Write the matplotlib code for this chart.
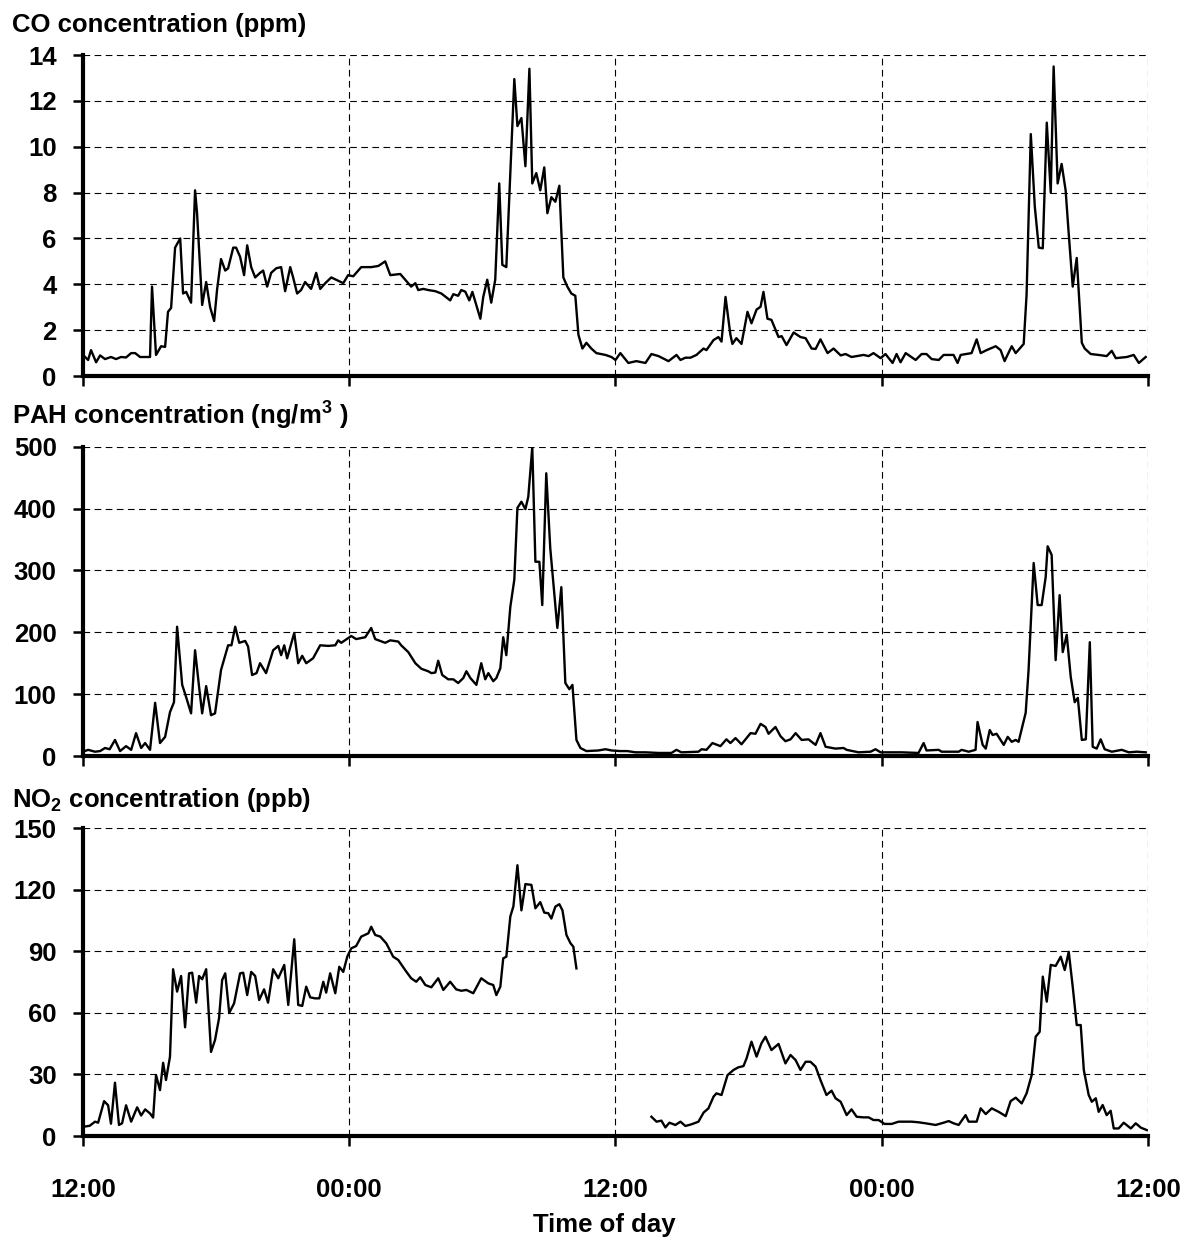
import numpy as np
import matplotlib
matplotlib.use('Agg')
import matplotlib.pyplot as plt

plt.rcParams['font.family'] = 'Liberation Sans'
plt.rcParams['font.weight'] = 'bold'
plt.rcParams['mathtext.fontset'] = 'custom'
plt.rcParams['mathtext.rm'] = 'Liberation Sans:bold'
plt.rcParams['mathtext.default'] = 'rm'

# hours after 12:00 on day 1, concentration
co_data = [(0.0, 0.92), (0.23, 0.7), (0.36, 1.13), (0.59, 0.6), (0.77, 0.9), (0.99, 0.74), (1.26, 0.83),
           (1.49, 0.74), (1.71, 0.83), (1.94, 0.81), (2.17, 1.0), (2.35, 1.0), (2.57, 0.83), (3.02, 0.83),
           (3.11, 3.9), (3.29, 0.92), (3.52, 1.3), (3.70, 1.27), (3.83, 2.8), (3.97, 2.97), (4.15, 5.6),
           (4.38, 6.0), (4.51, 3.6), (4.65, 3.67), (4.87, 3.2), (5.05, 8.1), (5.14, 7.1), (5.37, 3.1),
           (5.55, 4.1), (5.73, 3.0), (5.91, 2.4), (6.04, 3.75), (6.22, 5.1), (6.41, 4.6), (6.54, 4.7),
           (6.77, 5.6), (6.90, 5.6), (7.08, 5.2), (7.26, 4.4), (7.40, 5.7), (7.58, 4.75), (7.76, 4.3),
           (7.98, 4.5), (8.12, 4.6), (8.30, 3.9), (8.48, 4.5), (8.71, 4.7), (8.93, 4.75), (9.11, 3.7),
           (9.34, 4.75), (9.47, 4.3), (9.65, 3.6), (9.83, 3.75), (10.01, 4.1), (10.28, 3.8), (10.51, 4.5),
           (10.69, 3.8), (10.92, 4.05), (11.19, 4.3), (11.41, 4.2), (11.73, 4.05), (11.95, 4.4), (12.18, 4.35),
           (12.54, 4.75), (12.99, 4.75), (13.31, 4.8), (13.62, 5.0), (13.85, 4.4), (14.30, 4.45), (14.79, 3.9),
           (14.98, 4.05), (15.11, 3.75), (15.34, 3.8), (15.56, 3.75), (15.88, 3.7), (16.15, 3.6), (16.55, 3.3),
           (16.69, 3.57), (16.91, 3.5), (17.05, 3.75), (17.23, 3.68), (17.41, 3.3), (17.55, 3.67), (17.91, 2.5),
           (18.04, 3.45), (18.22, 4.2), (18.40, 3.2), (18.58, 4.2), (18.76, 8.4), (18.90, 4.85), (19.08, 4.75),
           (19.44, 12.95), (19.58, 10.9), (19.76, 11.25), (19.94, 9.15), (20.12, 13.4), (20.25, 8.4),
           (20.43, 8.85), (20.61, 8.1), (20.79, 9.1), (20.93, 7.1), (21.11, 7.8), (21.29, 7.6), (21.47, 8.3),
           (21.65, 4.3), (21.83, 3.9), (22.01, 3.6), (22.19, 3.5), (22.33, 1.8), (22.51, 1.2), (22.69, 1.45),
           (22.91, 1.2), (23.14, 1.0), (23.55, 0.92), (23.82, 0.83), (24.00, 0.7), (24.22, 1.0), (24.58, 0.57),
           (24.94, 0.65), (25.35, 0.57), (25.62, 0.96), (25.94, 0.87), (26.39, 0.65), (26.75, 0.92),
           (26.93, 0.7), (27.15, 0.8), (27.38, 0.8), (27.65, 0.92), (27.97, 1.2), (28.10, 1.13), (28.42, 1.57),
           (28.64, 1.7), (28.78, 1.5), (28.96, 3.45), (29.18, 1.8), (29.27, 1.4), (29.45, 1.65), (29.68, 1.4),
           (29.95, 2.8), (30.13, 2.3), (30.36, 2.9), (30.54, 3.02), (30.67, 3.67), (30.85, 2.5), (31.03, 2.45),
           (31.35, 1.7), (31.49, 1.74), (31.71, 1.35), (32.03, 1.9), (32.34, 1.7), (32.57, 1.65), (32.84, 1.2),
           (33.02, 1.18), (33.24, 1.6), (33.56, 1.0), (33.83, 1.2), (34.15, 0.9), (34.37, 0.96), (34.64, 0.83),
           (35.18, 0.92), (35.41, 0.87), (35.63, 1.0), (35.95, 0.78), (36.17, 0.96), (36.49, 0.57),
           (36.67, 0.96), (36.85, 0.6), (37.08, 1.0), (37.53, 0.7), (37.80, 0.96), (38.02, 0.96), (38.25, 0.74),
           (38.57, 0.7), (38.79, 0.92), (39.24, 0.92), (39.42, 0.57), (39.56, 0.92), (40.05, 1.0), (40.28, 1.6),
           (40.46, 1.0), (40.73, 1.13), (41.14, 1.3), (41.36, 1.13), (41.54, 0.65), (41.63, 0.84), (41.86, 1.3),
           (42.04, 1.0), (42.40, 1.4), (42.53, 3.55), (42.72, 10.55), (42.90, 7.4), (43.08, 5.6), (43.26, 5.57),
           (43.44, 11.05), (43.62, 8.0), (43.75, 13.5), (43.93, 8.4), (44.11, 9.25), (44.29, 8.1), (44.43, 6.2),
           (44.61, 3.9), (44.79, 5.15), (45.02, 1.45), (45.15, 1.2), (45.42, 0.96), (45.78, 0.92), (46.14, 0.87),
           (46.37, 1.1), (46.55, 0.78), (47.05, 0.83), (47.36, 0.92), (47.59, 0.57), (47.90, 0.83)]

pah_data = [(0.0, 7), (0.23, 10), (0.54, 7), (0.77, 8), (0.99, 13), (1.20, 11), (1.44, 26), (1.67, 8),
            (1.94, 16), (2.17, 10), (2.39, 37), (2.62, 13), (2.80, 21), (3.02, 10), (3.25, 86), (3.47, 21),
            (3.70, 31), (3.92, 71), (4.10, 87), (4.24, 209), (4.47, 115), (4.65, 95), (4.87, 69), (5.05, 171),
            (5.23, 112), (5.37, 69), (5.55, 113), (5.77, 66), (5.95, 69), (6.22, 139), (6.54, 179), (6.69, 179),
            (6.86, 209), (7.04, 183), (7.31, 186), (7.44, 177), (7.62, 131), (7.82, 134), (7.98, 150),
            (8.25, 134), (8.57, 171), (8.80, 178), (8.93, 163), (9.07, 179), (9.20, 158), (9.52, 199),
            (9.70, 150), (9.88, 162), (10.06, 150), (10.37, 158), (10.69, 179), (11.05, 178), (11.37, 179),
            (11.50, 187), (11.64, 183), (12.09, 194), (12.31, 189), (12.72, 192), (12.99, 207), (13.17, 189),
            (13.62, 183), (13.85, 187), (14.21, 185), (14.34, 179), (14.66, 168), (14.98, 150), (15.25, 141),
            (15.56, 137), (15.70, 134), (15.88, 135), (16.01, 154), (16.19, 131), (16.46, 124), (16.69, 124),
            (16.91, 118), (17.14, 126), (17.28, 137), (17.46, 126), (17.73, 115), (17.95, 150), (18.13, 124),
            (18.27, 134), (18.49, 121), (18.63, 126), (18.81, 142), (18.94, 192), (19.08, 163), (19.26, 241),
            (19.44, 285), (19.58, 401), (19.76, 411), (19.94, 399), (20.07, 419), (20.25, 499), (20.39, 314),
            (20.57, 314), (20.70, 244), (20.88, 457), (21.06, 336), (21.24, 263), (21.38, 207), (21.56, 273),
            (21.74, 118), (21.92, 108), (22.06, 115), (22.24, 26), (22.42, 13), (22.69, 8), (23.23, 9),
            (23.55, 11), (23.82, 9), (24.22, 8), (24.54, 8), (24.90, 6), (25.35, 6), (25.94, 5), (26.52, 5),
            (26.75, 10), (26.97, 6), (27.74, 7), (27.88, 11), (28.10, 10), (28.37, 21), (28.73, 16), (29.00, 27),
            (29.18, 21), (29.41, 29), (29.68, 19), (30.09, 37), (30.31, 36), (30.54, 52), (30.76, 47),
            (30.90, 36), (31.21, 47), (31.44, 32), (31.66, 24), (31.89, 27), (32.12, 37), (32.39, 26),
            (32.70, 27), (33.02, 18), (33.24, 37), (33.47, 15), (33.92, 12), (34.28, 13), (34.42, 10),
            (34.96, 6), (35.50, 7), (35.72, 11), (35.95, 6), (36.90, 6), (37.66, 5), (37.89, 21), (38.02, 9),
            (38.57, 10), (38.70, 7), (39.47, 7), (39.60, 10), (39.92, 7), (40.23, 10), (40.32, 55), (40.55, 18),
            (40.69, 12), (40.87, 42), (41.00, 34), (41.18, 36), (41.50, 18), (41.68, 31), (41.86, 23),
            (42.04, 26), (42.17, 23), (42.49, 70), (42.62, 139), (42.85, 312), (43.03, 244), (43.21, 244),
            (43.39, 289), (43.48, 339), (43.66, 325), (43.84, 155), (44.02, 260), (44.16, 168), (44.34, 196),
            (44.52, 128), (44.70, 87), (44.84, 94), (45.02, 26), (45.20, 27), (45.38, 184), (45.51, 15),
            (45.69, 12), (45.87, 27), (46.05, 11), (46.37, 7), (46.82, 10), (47.14, 6), (47.50, 7), (47.90, 6)]

# NO2 has a gap in the record around midday of day 2
no2_part1 = [(0.0, 4.5), (0.30, 5), (0.54, 7), (0.68, 6.5), (0.95, 17), (1.13, 15), (1.26, 6), (1.44, 26),
             (1.62, 5.4), (1.76, 6.2), (1.94, 15), (2.17, 7), (2.44, 14), (2.62, 10), (2.80, 13), (3.02, 11),
             (3.16, 9), (3.29, 29.7), (3.47, 22.4), (3.61, 35.7), (3.74, 27.3), (3.92, 38.7), (4.06, 81.3),
             (4.24, 70.4), (4.42, 78), (4.60, 53), (4.78, 79.3), (4.92, 79.6), (5.10, 65), (5.23, 78),
             (5.37, 76.4), (5.55, 81.3), (5.77, 41), (5.95, 46.8), (6.13, 57.4), (6.27, 76), (6.41, 79.3),
             (6.59, 60), (6.81, 64.7), (7.08, 79.3), (7.22, 79.6), (7.40, 68.7), (7.58, 80), (7.76, 78),
             (7.94, 66.3), (8.16, 71.5), (8.34, 65), (8.57, 81.3), (8.80, 76.9), (9.07, 83.4), (9.25, 63.9),
             (9.52, 95.9), (9.70, 63.9), (9.88, 63.4), (10.06, 72.8), (10.24, 67.6), (10.46, 67.1),
             (10.65, 67.1), (10.83, 75.2), (10.96, 69.9), (11.14, 79.3), (11.37, 69.6), (11.55, 82.5),
             (11.73, 80), (11.91, 87.4), (12.09, 91.5), (12.31, 92.6), (12.54, 97.2), (12.86, 98.8), (12.99, 102),
             (13.17, 98), (13.40, 97.2), (13.67, 93.9), (13.98, 87.4), (14.21, 85.8), (14.52, 80.9), (14.79, 76.9),
             (15.02, 75.2), (15.20, 77.4), (15.43, 73.6), (15.70, 72.5), (16.01, 76.9), (16.24, 71.2),
             (16.55, 75.2), (16.82, 71.5), (17.05, 70.8), (17.28, 71.2), (17.59, 69.6), (17.95, 76.9),
             (18.27, 74.4), (18.49, 73.6), (18.63, 68.7), (18.81, 72.8), (18.94, 86.6), (19.08, 87.4),
             (19.26, 107), (19.40, 112), (19.58, 132), (19.76, 110), (19.94, 122.8), (20.21, 122.4), (20.39, 111),
             (20.61, 114), (20.79, 108.9), (20.97, 108.6), (21.11, 106), (21.29, 111.8), (21.47, 113),
             (21.61, 110), (21.79, 98), (21.97, 94), (22.10, 92.3), (22.24, 81.7)]

no2_part2 = [(25.62, 9.4), (25.85, 7), (26.07, 7.5), (26.25, 4.2), (26.43, 6.5), (26.70, 5.4), (26.93, 7),
             (27.15, 4.9), (27.42, 5.7), (27.74, 7), (27.97, 11.4), (28.19, 13.5), (28.42, 19.2), (28.55, 20.8),
             (28.78, 20), (29.05, 29.7), (29.32, 32.2), (29.54, 33.5), (29.77, 34.1), (29.91, 37.9), (30.13, 46),
             (30.36, 38.7), (30.58, 45.2), (30.76, 48.4), (31.03, 41.9), (31.35, 44.9), (31.66, 35.4),
             (31.89, 39.5), (32.12, 37), (32.34, 32.2), (32.57, 36.2), (32.79, 36.2), (33.02, 33.8), (33.24, 27.3),
             (33.51, 20), (33.74, 22.1), (33.92, 18.4), (34.15, 16.7), (34.42, 10.2), (34.64, 13), (34.87, 9.4),
             (35.18, 9.1), (35.41, 9.1), (35.63, 7.8), (35.86, 7.8), (36.13, 5.9), (36.45, 5.9), (36.76, 7),
             (37.35, 7), (37.66, 6.7), (37.98, 6.2), (38.43, 5.4), (38.79, 6.5), (39.02, 7.3), (39.24, 6.2),
             (39.47, 5.4), (39.78, 10.2), (39.92, 7), (40.28, 7), (40.46, 13.5), (40.69, 10.7), (40.96, 13.5),
             (41.27, 11.8), (41.59, 9.7), (41.81, 17), (42.04, 18.7), (42.31, 15.9), (42.53, 20.8), (42.76, 29.7),
             (42.94, 48.4), (43.12, 50.8), (43.26, 77.7), (43.44, 65.5), (43.62, 83.4), (43.84, 82.9),
             (44.07, 87.4), (44.25, 80.9), (44.43, 89.8), (44.61, 72.8), (44.79, 54.1), (44.97, 54.1),
             (45.11, 32.2), (45.33, 20), (45.47, 16.7), (45.65, 18.4), (45.78, 11.8), (45.96, 15.1), (46.14, 10.2),
             (46.32, 12.3), (46.46, 3.7), (46.68, 3.7), (46.91, 6.5), (47.23, 3.7), (47.45, 6.2), (47.68, 4.1),
             (47.95, 2.9)]

time_ticks = [0, 12, 24, 36, 48]
time_labels = ['12:00', '00:00', '12:00', '00:00', '12:00']
FS = 18.5

fig = plt.figure(figsize=(11.81, 12.39), dpi=100)

# axes rectangles (left, bottom, width, height) in figure fractions
ax1 = fig.add_axes([0.0703, 0.6965, 0.9017, 0.2591])
ax2 = fig.add_axes([0.0703, 0.3898, 0.9017, 0.2497])
ax3 = fig.add_axes([0.0703, 0.0831, 0.9017, 0.2484])


def style_axes(ax, ymax, ystep, show_xlabels):
    ax.set_xlim(0, 48)
    ax.set_ylim(0, ymax)
    ax.set_xticks(time_ticks)
    ax.set_yticks(np.arange(0, ymax + 0.5 * ystep, ystep))
    ax.set_axisbelow(True)
    ax.grid(True, color='black', linestyle=(0, (6, 4)), linewidth=0.8)
    for s in ['top', 'right']:
        ax.spines[s].set_visible(False)
    for s in ['left', 'bottom']:
        ax.spines[s].set_linewidth(3)
    ax.tick_params(axis='y', direction='out', length=7, width=1.8, pad=12, labelsize=FS)
    ax.tick_params(axis='x', direction='out', length=7, width=1.8, pad=23, labelsize=FS)
    if show_xlabels:
        ax.set_xticklabels(time_labels)
    else:
        ax.set_xticklabels([])
    for lab in ax.get_yticklabels() + ax.get_xticklabels():
        lab.set_fontweight('bold')


def draw(ax, data):
    t, v = zip(*data)
    ax.plot(t, v, color='black', linewidth=1.7)


draw(ax1, co_data)
style_axes(ax1, 14, 2, False)

draw(ax2, pah_data)
style_axes(ax2, 500, 100, False)

draw(ax3, no2_part1)
draw(ax3, no2_part2)
style_axes(ax3, 150, 30, True)

fig.text(0.0102, 0.9744, 'CO concentration (ppm)', fontsize=FS, fontweight='bold', va='baseline')
fig.text(0.0102, 0.657, 'PAH concentration (ng/m$^{3}$ )', fontsize=FS, fontweight='bold', va='baseline')
fig.text(0.0102, 0.3489, 'NO$_{2}$ concentration (ppb)', fontsize=FS, fontweight='bold', va='baseline')
fig.text(0.5114, 0.006, 'Time of day', fontsize=FS, fontweight='bold', ha='center', va='baseline')

fig.savefig('out.png', dpi=100)
